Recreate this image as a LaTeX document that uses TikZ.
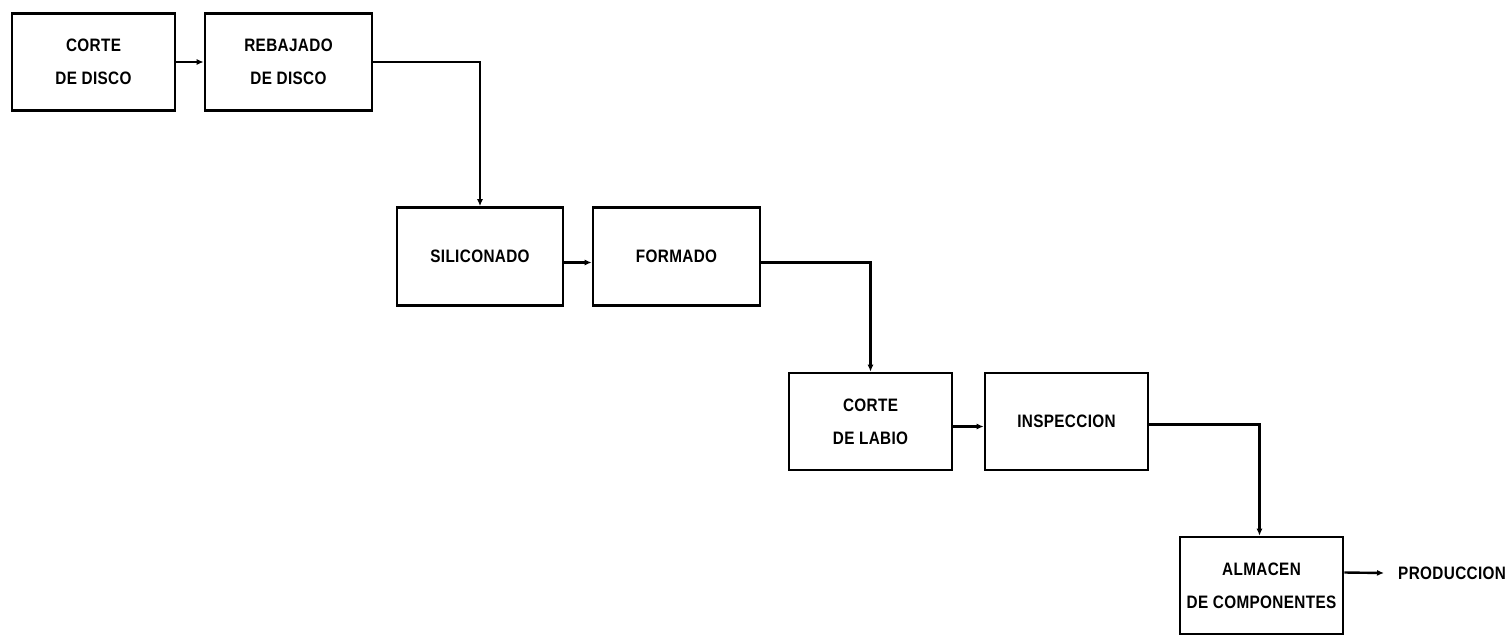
\documentclass[tikz,border=0pt]{standalone}
\usepackage{fontspec}
\setmainfont{Liberation Sans}[FakeStretch=0.85,LetterSpace=2]
\usetikzlibrary{arrows.meta}
\begin{document}
\begin{tikzpicture}[x=1pt,y=-1pt,
  box/.style={draw, line width=2.6pt, minimum width=163pt, minimum height=97pt,
    align=center, inner sep=0pt, font=\fontsize{18}{33}\selectfont\bfseries},
  conn/.style={line width=2.4pt, -{Latex[length=7pt,width=6pt]}},
  lbl/.style={font=\fontsize{18}{33}\selectfont\bfseries, inner sep=0pt, anchor=west}]
\useasboundingbox (0,0) rectangle (1509,637);
\node[box] (b1) at (93.5,62) {CORTE\\DE DISCO};
\node[box, minimum width=167pt] (b2) at (288.5,62) {REBAJADO\\DE DISCO};
\node[box, minimum width=166pt, minimum height=98pt] (b3) at (480,256.5) {SILICONADO};
\node[box, minimum width=167pt, minimum height=98pt] (b4) at (676.5,256.5) {FORMADO};
\node[box] (b5) at (870.5,421.5) {CORTE\\DE LABIO};
\node[box] (b6) at (1066.5,421.5) {INSPECCION};
\node[box] (b7) at (1261.5,585.5) {ALMACEN\\DE COMPONENTES};
\node[lbl] (p) at (1398,573) {PRODUCCION};
\draw[conn] (b1.east) -- (b2.west);
\draw[conn] (b2.east) -| (b3.north);
\draw[conn] ([yshift=-6pt]b3.east) -- ([yshift=-6pt]b4.west);
\draw[conn] ([yshift=-6pt]b4.east) -| (b5.north);
\draw[conn] ([yshift=-5pt]b5.east) -- ([yshift=-5pt]b6.west);
\draw[conn] ([yshift=-3pt]b6.east) -| ([xshift=-2pt]b7.north);
\draw[conn] ([yshift=13pt]b7.east) -- ([xshift=-14pt]p.west);
\end{tikzpicture}
\end{document}
